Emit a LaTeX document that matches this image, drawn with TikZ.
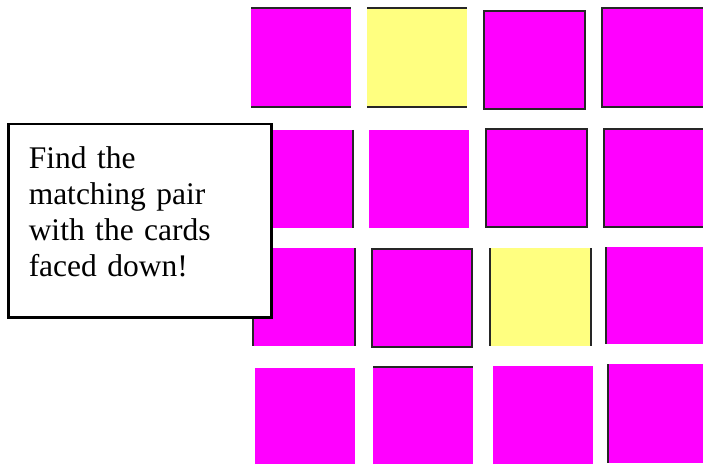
\documentclass[tikz,border=0pt]{standalone}
\usepackage{fontspec}
\setmainfont{Liberation Serif}
\usepackage{tikz}
\usetikzlibrary{positioning}
\definecolor{cardpink}{RGB}{255,0,255}
\definecolor{cardyellow}{RGB}{255,255,128}
\tikzset{
  edgeline/.style={line width=2.2pt,draw=black!85},
  notebox/.style={draw,line width=2.5pt,fill=white,align=left,anchor=north west,
    inner xsep=19pt,text width=222pt,minimum width=263pt,minimum height=193pt,
    text depth=127pt,font=\fontsize{31.5}{36}\selectfont}
}
% card: x1 y1 x2 y2 colour
\newcommand{\card}[5]{\fill[#5] (#1,#2) rectangle (#3,#4);}

\begin{document}
\begin{tikzpicture}[x=1pt,y=-1pt]
\useasboundingbox (0,0) rectangle (703,465);
% row 1
\card{251}{8}{351}{107}{cardpink}
\draw[edgeline] (251,8) -- (351,8) (251,107) -- (351,107);
\card{367}{8}{467}{107}{cardyellow}
\draw[edgeline] (367,8) -- (467,8) (367,107) -- (467,107);
\card{484}{11}{585}{109}{cardpink}
\draw[edgeline] (484,11) rectangle (585,109);
\card{602}{8}{705}{107}{cardpink}
\draw[edgeline] (602,8) rectangle (705,107);
% row 2
\card{255}{130}{353}{228}{cardpink}
\draw[edgeline] (353,130) -- (353,228);
\card{369}{130}{469}{228}{cardpink}
\card{486}{129}{587}{227}{cardpink}
\draw[edgeline] (486,129) rectangle (587,227);
\card{604}{129}{705}{227}{cardpink}
\draw[edgeline] (604,129) rectangle (705,227);
% row 3
\card{253}{248}{355}{346}{cardpink}
\draw[edgeline] (253,248) -- (253,346) (355,248) -- (355,346);
\card{372}{249}{472}{347}{cardpink}
\draw[edgeline] (372,249) rectangle (472,347);
\card{490}{248}{591}{346}{cardyellow}
\draw[edgeline] (490,248) -- (490,346) (591,248) -- (591,346);
\card{606}{247}{705}{344}{cardpink}
\draw[edgeline] (606,247) -- (606,344);
% row 4
\card{255}{368}{355}{464}{cardpink}
\card{373}{367}{473}{464}{cardpink}
\draw[edgeline] (373,367) -- (473,367);
\card{493}{366}{593}{464}{cardpink}
\card{608}{364}{705}{463}{cardpink}
\draw[edgeline] (608,364) -- (608,463);
% hint box
\node[notebox] (hint) at (7,123) {Find the\\matching pair\\with the cards\\faced down!};
\end{tikzpicture}
\end{document}
